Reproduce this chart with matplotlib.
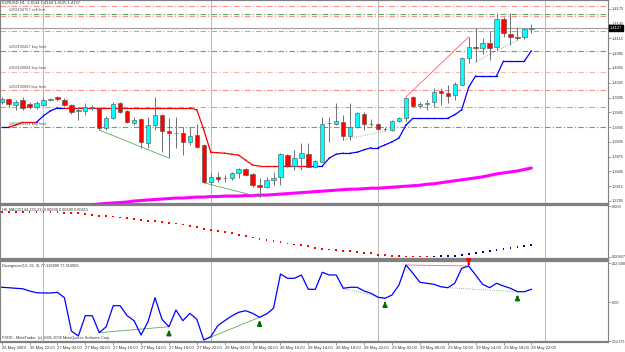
import numpy as np
import matplotlib.pyplot as plt

plt.rcParams['font.family'] = ['Liberation Sans', 'DejaVu Sans']

# EURUSD H1, 26 May 18:00 .. 29 May 22:00 (77 bars)
opens = [1.3986, 1.3992, 1.3980, 1.3990, 1.3982, 1.3976, 1.3980, 1.3990, 1.3996, 1.3990,
         1.3980, 1.3968, 1.3968, 1.3974, 1.3974, 1.3933, 1.3953, 1.3984, 1.3968, 1.3943,
         1.3951, 1.3903, 1.3939, 1.3960, 1.3927, 1.3923, 1.3923, 1.3905, 1.3919, 1.3899,
         1.3824, 1.3834, 1.3832, 1.3832, 1.3842, 1.3850, 1.3840, 1.3818, 1.3813, 1.3828,
         1.3834, 1.3878, 1.3856, 1.3872, 1.3880, 1.3854, 1.3864, 1.3943, 1.3941, 1.3945,
         1.3917, 1.3935, 1.3962, 1.3941, 1.3941, 1.3931, 1.3929, 1.3947, 1.3953, 1.3996,
         1.3978, 1.3982, 1.3986, 1.4008, 1.4004, 1.4000, 1.4020, 1.4075, 1.4098, 1.4096,
         1.4106, 1.4098, 1.4154, 1.4124, 1.4118, 1.4118, 1.4134]
highs = [1.3996, 1.3994, 1.3990, 1.3996, 1.3986, 1.3988, 1.3996, 1.3994, 1.3998, 1.3994,
         1.3982, 1.3976, 1.3984, 1.3980, 1.3976, 1.3958, 1.3986, 1.3986, 1.3970, 1.3956,
         1.3953, 1.3956, 1.3996, 1.3962, 1.3953, 1.3956, 1.3935, 1.3935, 1.3941, 1.3901,
         1.3842, 1.3844, 1.3838, 1.3844, 1.3852, 1.3852, 1.3842, 1.3832, 1.3834, 1.3844,
         1.3882, 1.3880, 1.3889, 1.3903, 1.3903, 1.3868, 1.3956, 1.3956, 1.3984, 1.3960,
         1.3984, 1.3966, 1.3966, 1.3951, 1.3943, 1.3935, 1.3949, 1.3956, 1.3996, 1.3998,
         1.3986, 1.3990, 1.4014, 1.4014, 1.4020, 1.4027, 1.4077, 1.4118, 1.4136, 1.4116,
         1.4130, 1.4167, 1.4158, 1.4167, 1.4138, 1.4136, 1.4144]
lows = [1.3982, 1.3976, 1.3970, 1.3970, 1.3972, 1.3972, 1.3978, 1.3988, 1.3988, 1.3978,
        1.3962, 1.3949, 1.3960, 1.3970, 1.3929, 1.3929, 1.3951, 1.3964, 1.3943, 1.3939,
        1.3893, 1.3893, 1.3929, 1.3884, 1.3872, 1.3893, 1.3878, 1.3899, 1.3893, 1.3822,
        1.3818, 1.3824, 1.3824, 1.3828, 1.3832, 1.3836, 1.3813, 1.3793, 1.3811, 1.3818,
        1.3818, 1.3854, 1.3848, 1.3848, 1.3854, 1.3852, 1.3864, 1.3905, 1.3939, 1.3909,
        1.3909, 1.3933, 1.3929, 1.3937, 1.3929, 1.3927, 1.3927, 1.3945, 1.3947, 1.3976,
        1.3974, 1.3970, 1.3976, 1.3980, 1.3984, 1.3990, 1.4020, 1.4065, 1.4067, 1.4083,
        1.4071, 1.4092, 1.4118, 1.4102, 1.4112, 1.4114, 1.4125]
closes = [1.3992, 1.3982, 1.3986, 1.3974, 1.3976, 1.3984, 1.3990, 1.3992, 1.3992, 1.3980,
          1.3966, 1.3970, 1.3976, 1.3976, 1.3933, 1.3953, 1.3982, 1.3966, 1.3945, 1.3949,
          1.3905, 1.3939, 1.3960, 1.3927, 1.3923, 1.3924, 1.3905, 1.3917, 1.3895, 1.3824,
          1.3834, 1.3830, 1.3832, 1.3842, 1.3850, 1.3838, 1.3818, 1.3813, 1.3828, 1.3832,
          1.3880, 1.3856, 1.3872, 1.3882, 1.3854, 1.3866, 1.3941, 1.3943, 1.3947, 1.3917,
          1.3935, 1.3964, 1.3941, 1.3941, 1.3931, 1.3931, 1.3947, 1.3953, 1.3994, 1.3978,
          1.3982, 1.3984, 1.4006, 1.4004, 1.3998, 1.4023, 1.4075, 1.4098, 1.4096, 1.4106,
          1.4096, 1.4154, 1.4126, 1.4118, 1.4116, 1.4134, 1.4137]

# stepped trend line and its colour per bar (b = up, r = down)
trend = [1.3935, 1.3935, 1.3939, 1.3945, 1.3945, 1.3945, 1.3958, 1.3968, 1.3974, 1.3974,
         1.3974, 1.3974, 1.3974, 1.3974, 1.3974, 1.3974, 1.3974, 1.3974, 1.3974, 1.3974,
         1.3974, 1.3974, 1.3974, 1.3974, 1.3974, 1.3974, 1.3974, 1.3974, 1.3970, 1.3929,
         1.3884, 1.3883, 1.3882, 1.3880, 1.3878, 1.3868, 1.3858, 1.3856, 1.3856, 1.3856,
         1.3856, 1.3856, 1.3856, 1.3856, 1.3856, 1.3856, 1.3856, 1.3872, 1.3880, 1.3882,
         1.3882, 1.3884, 1.3889, 1.3893, 1.3893, 1.3899, 1.3905, 1.3913, 1.3939, 1.3953,
         1.3953, 1.3953, 1.3953, 1.3953, 1.3953, 1.3960, 1.3970, 1.4016, 1.4039, 1.4039,
         1.4039, 1.4039, 1.4069, 1.4069, 1.4069, 1.4069, 1.4090]
trend_dir = "bbrrrrbbbb" + "rrrrrrrrrrrrrrrrrrrrrrrrrrrrrrrrrrr" + "bbbbbbbbbbbbbbbbbbbbbbbbbbbbbbbb"

# long moving average (magenta), starts inside the window at bar 10
ma_long = [np.nan] * 10 + [
    1.3773, 1.3775, 1.3776, 1.3777, 1.3779, 1.3780, 1.3781, 1.3782, 1.3783, 1.3785,
    1.3786, 1.3787, 1.3788, 1.3789, 1.3790, 1.3791, 1.3791, 1.3792, 1.3793, 1.3793,
    1.3794, 1.3794, 1.3795, 1.3795, 1.3795, 1.3796, 1.3796, 1.3797, 1.3797, 1.3798,
    1.3799, 1.3800, 1.3801, 1.3802, 1.3803, 1.3804, 1.3805, 1.3806, 1.3807, 1.3808,
    1.3809, 1.3809, 1.3810, 1.3811, 1.3811, 1.3812, 1.3813, 1.3814, 1.3815, 1.3816,
    1.3817, 1.3819, 1.3820, 1.3822, 1.3824, 1.3826, 1.3828, 1.3830, 1.3832, 1.3834,
    1.3837, 1.3840, 1.3842, 1.3844, 1.3846, 1.3849, 1.3852]

# pending orders (price, colour kind)
order_lines = [(1.4181, 'r'), (1.4165, 'g'), (1.4161, 'r'), (1.4130, 'r'), (1.4090, 'g'),
               (1.4047, 'p'), (1.4010, 'r'), (1.3976, 'r'), (1.3935, 'g')]
order_labels = [(1.4168, "#208104757 sell limit"), (1.4093, "#208100467 buy limit"),
                (1.4050, "#208100884 buy limit"), (1.4013, "#208100883 buy limit"),
                (1.3938, "#208100121 buy limit")]

# divergence lines drawn on price chart: (bar, price, bar, price, colour, style)
price_div = [(14, 1.3929, 24, 1.3872, 'g', '-'), (29, 1.3822, 37, 1.3793, 'g', '-'),
             (49, 1.3909, 55, 1.3927, 'g', ':'), (68, 1.4067, 74, 1.4112, 'g', ':'),
             (58, 1.3996, 67, 1.4118, 'r', '-')]

# MACD dots panel
macd = [0.00924, 0.00924, 0.00924, 0.00924, 0.00924, 0.00924, 0.00924, 0.00924, 0.00924, 0.00922,
        0.00921, 0.00921, 0.00919, 0.00917, 0.00916, 0.00915, 0.00914, 0.00912, 0.00910, 0.00909,
        0.00907, 0.00905, 0.00904, 0.00903, 0.00901, 0.00899, 0.00897, 0.00894, 0.00892, 0.00887,
        0.00885, 0.00883, 0.00881, 0.00878, 0.00874, 0.00872, 0.00869, 0.00866, 0.00864, 0.00861,
        0.00859, 0.00856, 0.00854, 0.00852, 0.00850, 0.00847, 0.00845, 0.00843, 0.00842, 0.00840,
        0.00839, 0.00837, 0.00836, 0.00835, 0.00832, 0.00831, 0.00830, 0.00829, 0.00828, 0.00828,
        0.00828, 0.00828, 0.00828, 0.00829, 0.00829, 0.00829, 0.00831, 0.00833, 0.00835, 0.00837,
        0.00839, 0.00842, 0.00844, 0.00846, 0.00848, 0.00850, 0.00852]
macd_dir = "r" * 62 + "n" * 15

# Divergence oscillator
osc = [95.3, 92.7, 88.8, 86.2, 71.3, 60.3, 58.3, 58.3, 62.9, 27.9,
       -187.9, -220.3, -88.8, -88.8, -198.9, -160.1, -24.0, -24.0, -88.8, -121.2,
       -213.8, -127.7, 27.9, -112.1, -160.1, -51.8, -121.2, -73.2, -112.1, -246.2,
       -224.9, -153.6, -121.2, -90.7, -66.7, -56.4, -73.2, -99.1, -77.8, -40.8,
       181.4, 153.6, 153.6, 175.0, 82.3, 82.3, 192.5, 175.0, 175.0, 88.8,
       95.3, 95.3, 71.3, 56.4, 30.5, 24.0, 45.4, 110.2, 239.8, 186.0,
       127.7, 121.2, 114.7, 99.1, 92.7, 121.2, 218.4, 233.3, 175.0, 114.7,
       92.7, 121.2, 103.7, 88.8, 66.7, 66.7, 82.3]
up_arrows = [24, 37, 55, 74]
down_arrows = [67]
osc_div = [(14, 24, 'g', '-'), (29, 37, 'g', '-'), (49, 55, 'g', ':'), (64, 74, 'g', ':'),
           (58, 67, 'r', '-')]

time_labels = ["26 May 2009", "26 May 22:00", "27 May 02:00", "27 May 06:00", "27 May 10:00",
               "27 May 14:00", "27 May 18:00", "27 May 22:00", "28 May 02:00", "28 May 06:00",
               "28 May 10:00", "28 May 14:00", "28 May 18:00", "28 May 22:00", "29 May 02:00",
               "29 May 06:00", "29 May 10:00", "29 May 14:00", "29 May 18:00", "29 May 22:00"]
day_starts = [6, 30, 54, 78]
price_ticks = [1.4175, 1.4145, 1.4115, 1.4085, 1.4055, 1.4025, 1.3995, 1.3965, 1.3935,
               1.3905, 1.3875, 1.3845, 1.3815, 1.3785]

W, H = 625, 352
fig = plt.figure(figsize=(W / 100, H / 100), dpi=100)
fig.patch.set_facecolor('white')


def pane(top, bottom):
    ax = fig.add_axes([0, 1 - bottom / H, 608 / W, (bottom - top) / H])
    for s in ax.spines.values():
        s.set_color('#808080')
        s.set_linewidth(0.8)
    ax.spines['top'].set_linewidth(1.6)
    ax.spines['bottom'].set_linewidth(1.6)
    ax.set_xlim(-0.24, 86.99)
    ax.yaxis.tick_right()
    ax.tick_params(axis='y', length=2, width=0.5, color='#808080', labelsize=2.8,
                   labelcolor='#333333', pad=0.6)
    ax.tick_params(axis='x', bottom=False, labelbottom=False)
    for d in day_starts:
        ax.axvline(d, color='#606060', lw=0.6, ls=(0, (1.2, 1.2)), zorder=1)
    return ax


ax = pane(0, 204)
ax_m = pane(205, 259)
ax_d = pane(261, 342)

n = len(closes)
x = np.arange(n)

# main price pane
ax.set_ylim(1.37789, 1.4193)
ax.set_yticks(price_ticks)
ax.set_yticklabels([f"{p:.4f}" for p in price_ticks])

line_cols = {'r': '#FF8C8C', 'g': '#5FA85F', 'p': '#FFB4B4'}
for p, k in order_lines:
    ax.axhline(p, color=line_cols[k], lw=0.8, ls=(0, (5, 2, 1, 2)), zorder=1)
for p, t in order_labels:
    ax.text(1.0, p, t, fontsize=2.8, color='#555555', va='bottom', zorder=2)

ax.axhline(closes[-1], color='#A0A0A0', lw=0.8, zorder=1)

ax.plot(x, ma_long, color='#FF00FF', lw=2.2, zorder=3, solid_capstyle='round')

for i in range(n - 1):
    c = '#0000FF' if trend_dir[i + 1] == 'b' else '#FF0000'
    ax.plot([i, i + 1], [trend[i], trend[i + 1]], color=c, lw=0.9, zorder=3)

for b0, p0, b1, p1, c, st in price_div:
    ax.plot([b0, b1], [p0, p1], color='#5FA85F' if c == 'g' else '#FF6060',
            lw=0.6, ls=st, zorder=3)

ax.vlines(x, lows, highs, color='#707070', lw=0.7, zorder=4)
bull = np.array(closes) >= np.array(opens)
body_lo = np.minimum(opens, closes)
body_h = np.maximum(np.abs(np.array(closes) - np.array(opens)), 0.00004)
ax.bar(x, body_h, bottom=body_lo, width=0.62,
       color=np.where(bull, '#00FFFF', '#FF0000'), edgecolor='#505050', linewidth=0.4, zorder=5)

ax.text(0.004, 0.997, "EURUSD,H1  1.4134 1.4144 1.4125 1.4137", transform=ax.transAxes,
        fontsize=2.9, color='#333333', va='top', ha='left')
ax.text(1.003, closes[-1], "1.4137", transform=ax.get_yaxis_transform(), fontsize=2.8,
        color='white', va='center', ha='left', zorder=10, clip_on=False,
        bbox=dict(boxstyle='square,pad=0.25', fc='black', ec='black'))

# MACD pane
ax_m.set_ylim(0.008227, 0.009388)
ax_m.set_yticks([0.00936, 0.00828])
ax_m.set_yticklabels(["0.009", "0.00827"])
mc = np.where(np.array(list(macd_dir)) == 'r', '#FF0000', '#000080')
ax_m.scatter(x, macd, s=1.8, c=mc, marker='s', linewidths=0, zorder=3)
ax_m.text(0.004, 0.95, "HK MACD(144,233,21) 0.00688 0.00689 0.00651", transform=ax_m.transAxes,
          fontsize=2.8, color='#333333', va='top')

# Divergence pane
ax_d.set_ylim(-259.2, 265.7)
ax_d.set_yticks([252.69, 0, -254.575])
ax_d.set_yticklabels(["252.690", "0.00", "-254.575"])
ax_d.get_yticklabels()[2].set_fontsize(2.4)
ax_d.plot(x, osc, color='#0000FF', lw=0.9, zorder=3)
for b0, b1, c, st in osc_div:
    ax_d.plot([b0, b1], [osc[b0], osc[b1]], color='#5FA85F' if c == 'g' else '#FF6060',
              lw=0.6, ls=st, zorder=2)
for b in up_arrows:
    ax_d.annotate('', xy=(b, osc[b] - 3), xytext=(b, osc[b] - 55),
                  arrowprops=dict(arrowstyle='-|>', color='#007000', lw=1.4, mutation_scale=6),
                  zorder=4)
for b in down_arrows:
    ax_d.annotate('', xy=(b, osc[b] - 8), xytext=(b, osc[b] + 30),
                  arrowprops=dict(arrowstyle='-|>', color='#FF0000', lw=1.4, mutation_scale=6),
                  zorder=4, annotation_clip=False)
ax_d.text(0.004, 0.96, "Divergence(12, 26, 9) 77.316908 77.316908", transform=ax_d.transAxes,
          fontsize=2.8, color='#333333', va='top')
ax_d.text(0.004, 0.02, "FXDD - MetaTrader, (c) 2001-2008 MetaQuotes Software Corp.",
          transform=ax_d.transAxes, fontsize=2.8, color='#333333', va='bottom')

ax_d.set_xticks(np.arange(0, n, 4))
ax_d.set_xticklabels(time_labels, ha='left')
ax_d.tick_params(axis='x', bottom=True, labelbottom=True, length=2, width=0.5,
                 color='#808080', labelsize=3.0, labelcolor='#333333', pad=1)

fig.savefig('out.png', dpi=100, facecolor='white')
